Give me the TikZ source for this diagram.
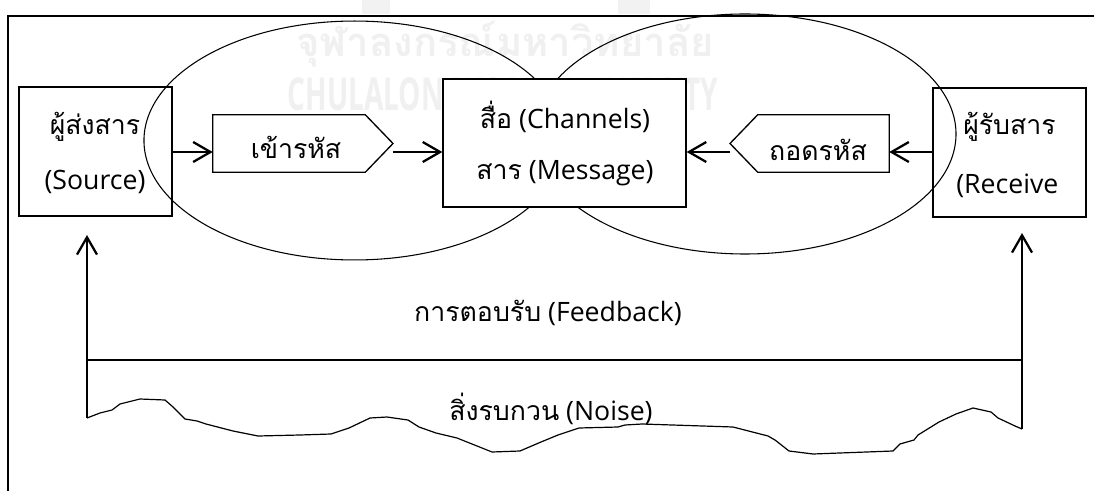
\documentclass[tikz,border=0pt]{standalone}
\usepackage{fontspec}
\setmainfont{Open Sans}
\newfontfamily\thai[Script=Thai]{Loma}
\usetikzlibrary{arrows.meta}

\begin{document}
\begin{tikzpicture}[x=0.75pt,y=-0.75pt,
  box/.style={draw, line width=1pt, inner sep=0pt},
  lbl/.style={font=\fontsize{20pt}{24pt}\selectfont, inner sep=0pt, align=center},
  arr/.style={line width=1.7pt, -{Straight Barb[length=13pt,width=15pt,line width=1.7pt]}},
  ring/.style={line width=0.8pt},
  wm/.style={text=black!6, inner sep=0pt}]

\fill[white] (0,0) rectangle (1094,491);
\useasboundingbox (0,0) rectangle (1094,491);

% faint university watermark
\fill[black!5] (362,0) rectangle (390,14);
\fill[black!5] (618,0) rectangle (650,14);
\node[wm, font=\thai\bfseries\fontsize{30pt}{30pt}\selectfont] (wm-th) at (505,44) {จุฬาลงกรณ์มหาวิทยาลัย};
\node[wm, font=\bfseries\fontsize{34pt}{34pt}\selectfont, xscale=0.62] (wm-en) at (503,94) {CHULALONGKORN UNIVERSITY};

% outer frame
\draw[line width=1pt] (8,491) -- (8,16) -- (1094,16);

% the two overlapping ellipses
\draw[ring] (354.5,140.5) ellipse [x radius=157.9pt, y radius=89.6pt];
\draw[ring] (745,134) ellipse [x radius=158.25pt, y radius=90pt];

% boxes
\node[box, minimum width=114.75pt, minimum height=96.75pt] (src) at (95.5,151.5) {};
\node[box, fill=white, minimum width=182.25pt, minimum height=96pt] (chan) at (564.5,143) {};
\node[box, minimum width=114.75pt, minimum height=96.75pt] (rcv) at (1009.5,152.5) {};

% encoder / decoder pentagons
\node[inner sep=0pt, minimum width=114pt, minimum height=42.75pt] (enc) at (289,143.5) {};
\coordinate (enc-tip) at (393,143.5);
\draw[line width=1pt, line join=miter] (enc.north west) -- (enc.north east) -- (enc-tip) -- (enc.south east) -- (enc.south west) -- cycle;
\node[inner sep=0pt, minimum width=98.25pt, minimum height=42.75pt] (dec) at (823.5,143.5) {};
\coordinate (dec-tip) at (730,143.5);
\draw[line width=1pt, line join=miter] (dec.north east) -- (dec.north west) -- (dec-tip) -- (dec.south west) -- (dec.south east) -- cycle;

% texts
\node[lbl] (src-1) at (95,127) {\thai ผู้ส่งสาร};
\node[lbl] (src-2) at (95,182) {(Source)};
\node[lbl] (enc-t) at (296,147) {\thai เข้ารหัส};
\node[lbl] (chan-1) at (565,117) {{\thai สื่อ} (Channels)};
\node[lbl] (chan-2) at (565,173) {{\thai สาร} (Message)};
\node[lbl] (dec-t) at (818,150) {\thai ถอดรหัส};
\node[lbl, anchor=west] (rcv-1) at (963,127) {\thai ผู้รับสาร};
\node[lbl, anchor=west] (rcv-2) at (956,186) {(Receive};
\node[lbl] (fb) at (548,313) {{\thai การตอบรับ} (Feedback)};
\node[lbl] (noise) at (551,409) {{\thai สิ่งรบกวน} (Noise)};

% message flow
\coordinate (row) at (0,152);
\draw[arr] (src.east |- row) -- (enc.west |- row);
\draw[arr] (enc-tip |- row) -- (chan.west |- row);
\draw[arr] (rcv.west |- row) -- (dec.east |- row);
\draw[arr] (dec-tip |- row) -- (chan.east |- row);

% feedback loop
\coordinate (fbL-b) at (87,418);
\coordinate (fbL-t) at (87,235);
\coordinate (fbR-b) at (1022,429);
\coordinate (fbR-t) at (1022,233);
\coordinate (fb-row) at (0,360);
\draw[arr] (fbL-b) -- (fbL-t);
\draw[arr] (fbR-b) -- (fbR-t);
\draw[line width=1.7pt] (fbL-b |- fb-row) -- (fbR-b |- fb-row);

% noise outline
\draw[line width=0.9pt, line join=round] (fbL-b) -- (100,413) -- (112,410) -- (120,404) -- (140,399) -- (165,400)
  -- (173,407) -- (185,419) -- (197,421) -- (206,424) -- (233,431) -- (258,436) -- (300,435) -- (331,434)
  -- (349,428) -- (370,418) -- (387,417) -- (408,420) -- (419,427) -- (436,433) -- (457,438) -- (492,452)
  -- (520,451) -- (541,442) -- (558,435) -- (579,428) -- (618,427) -- (625,425) -- (642,424) -- (733,427)
  -- (768,436) -- (775,440) -- (789,451) -- (813,454) -- (893,451) -- (900,444) -- (914,440) -- (918,435)
  -- (939,422) -- (956,414) -- (973,408) -- (991,412) -- (998,418) -- (1015,426) -- (fbR-b);
\end{tikzpicture}
\end{document}
